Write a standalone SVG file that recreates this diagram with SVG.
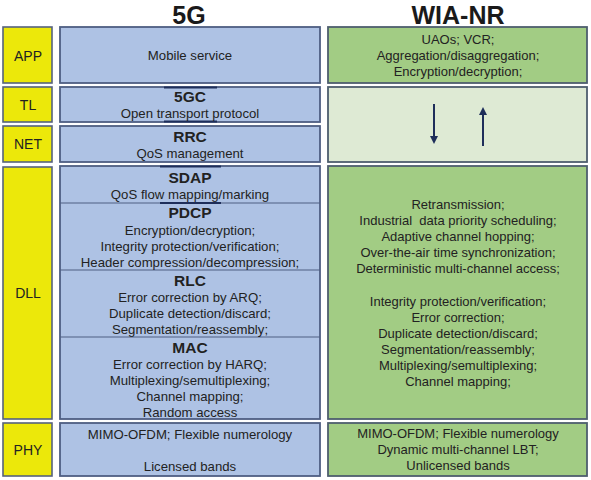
<svg xmlns="http://www.w3.org/2000/svg" width="591" height="480" viewBox="0 0 591 480">
<defs>
<style>
.y{fill:#ECE80A;stroke:#56627E;stroke-width:1.6}
.b{fill:#AEC2E4;stroke:#4E5E82;stroke-width:1.8}
.g{fill:#A2CC84;stroke:#4E5E6E;stroke-width:1.8}
.lg{fill:#DEEAD4;stroke:#4E5E6E;stroke-width:1.8}
.div{stroke:#4E5E82;stroke-width:1.2}
.hl{stroke:#1E2E5A;stroke-width:2}
text{font-family:"Liberation Sans",Arial,sans-serif;fill:#222;text-anchor:middle;white-space:pre}
.lab{font-size:14px}
.t{font-size:13.2px}
.gt{font-size:13px}
.h{font-size:15.5px;font-weight:bold}
.title{font-size:25px;font-weight:bold;fill:#1a1a1a}
</style>
<marker id="ah" markerWidth="8" markerHeight="8" refX="4" refY="4" orient="auto" markerUnits="userSpaceOnUse">
<path d="M0,0 L8,4 L0,8 z" fill="#1E2E5A"/>
</marker>
</defs>
<rect width="591" height="480" fill="#fff"/>
<g id="titles">
<text class="title" x="189" y="24">5G</text>
<text class="title" x="458" y="24">WIA-NR</text>
</g>
<g id="layer-app"><rect class="y" x="3" y="27" width="49" height="56"/><text class="lab" x="28" y="61">APP</text></g>
<g id="layer-tl"><rect class="y" x="3" y="87" width="49" height="35"/><text class="lab" x="28" y="110">TL</text></g>
<g id="layer-net"><rect class="y" x="3" y="126" width="49" height="36"/><text class="lab" x="28" y="149">NET</text></g>
<g id="layer-dll"><rect class="y" x="3" y="167" width="49" height="252"/><text class="lab" x="28" y="298">DLL</text></g>
<g id="layer-phy"><rect class="y" x="3" y="423" width="49" height="53"/><text class="lab" x="28" y="455">PHY</text></g>

<g id="g5-app"><rect class="b" x="60" y="27" width="260" height="56"/><text class="t" x="190" y="60">Mobile service</text></g>
<g id="g5-tl"><rect class="b" x="60" y="87" width="260" height="35"/>
<line class="hl" x1="164" y1="87.5" x2="217" y2="87.5"/><line class="hl" x1="164" y1="121.5" x2="217" y2="121.5"/>
<text class="h" x="190" y="102">5GC</text><text class="t" x="190" y="118">Open transport protocol</text></g>
<g id="g5-net"><rect class="b" x="60" y="126" width="260" height="36"/>
<text class="h" x="190" y="142">RRC</text><text class="t" x="190" y="158">QoS management</text></g>
<g id="g5-dll"><rect class="b" x="60" y="166" width="260" height="253"/>
<line class="div" x1="60" y1="203" x2="320" y2="203"/>
<line class="div" x1="60" y1="270" x2="320" y2="270"/>
<line class="div" x1="60" y1="337" x2="320" y2="337"/>
<line class="hl" x1="160" y1="166.5" x2="221" y2="166.5"/><line class="hl" x1="160" y1="203" x2="221" y2="203"/>
<text class="h" x="190" y="183">SDAP</text><text class="t" x="190" y="199">QoS flow mapping/marking</text>
<text class="h" x="190" y="218">PDCP</text>
<text class="t" x="190" y="235">Encryption/decryption;</text>
<text class="t" x="190" y="251">Integrity protection/verification;</text>
<text class="t" x="190" y="267">Header compression/decompression;</text>
<text class="h" x="190" y="286">RLC</text>
<text class="t" x="190" y="302">Error correction by ARQ;</text>
<text class="t" x="190" y="318">Duplicate detection/discard;</text>
<text class="t" x="190" y="334">Segmentation/reassembly;</text>
<text class="h" x="190" y="353">MAC</text>
<text class="t" x="190" y="369">Error correction by HARQ;</text>
<text class="t" x="190" y="385">Multiplexing/semultiplexing;</text>
<text class="t" x="190" y="401">Channel mapping;</text>
<text class="t" x="190" y="417">Random access</text></g>
<g id="g5-phy"><rect class="b" x="60" y="423" width="260" height="53"/>
<text class="t" x="190" y="439">MIMO-OFDM; Flexible numerology</text>
<text class="t" x="190" y="471">Licensed bands</text></g>

<g id="wia-app"><rect class="g" x="328" y="27" width="259" height="56"/>
<text class="gt" x="458" y="44">UAOs; VCR;</text>
<text class="gt" x="458" y="60">Aggregation/disaggregation;</text>
<text class="gt" x="458" y="76">Encryption/decryption;</text></g>
<g id="wia-tlnet"><rect class="lg" x="328" y="87" width="259" height="75"/></g>
<g id="wia-dll"><rect class="g" x="328" y="166" width="259" height="253"/>
<text class="gt" x="458" y="209">Retransmission;</text>
<text class="gt" x="458" y="225" xml:space="preserve">Industrial  data priority scheduling;</text>
<text class="gt" x="458" y="241">Adaptive channel hopping;</text>
<text class="gt" x="458" y="257">Over-the-air time synchronization;</text>
<text class="gt" x="458" y="273">Deterministic multi-channel access;</text>
<text class="gt" x="458" y="306">Integrity protection/verification;</text>
<text class="gt" x="458" y="322">Error correction;</text>
<text class="gt" x="458" y="338">Duplicate detection/discard;</text>
<text class="gt" x="458" y="354">Segmentation/reassembly;</text>
<text class="gt" x="458" y="370">Multiplexing/semultiplexing;</text>
<text class="gt" x="458" y="386">Channel mapping;</text></g>
<g id="wia-phy"><rect class="g" x="328" y="423" width="259" height="53"/>
<text class="gt" x="458" y="438">MIMO-OFDM; Flexible numerology</text>
<text class="gt" x="458" y="454">Dynamic multi-channel LBT;</text>
<text class="gt" x="458" y="470">Unlicensed bands</text></g>

<g id="connectors">
<line x1="434" y1="104" x2="434" y2="140" stroke="#1E2E5A" stroke-width="2" marker-end="url(#ah)"/>
<line x1="483" y1="146" x2="483" y2="111" stroke="#1E2E5A" stroke-width="2" marker-end="url(#ah)"/>
</g>
</svg>
